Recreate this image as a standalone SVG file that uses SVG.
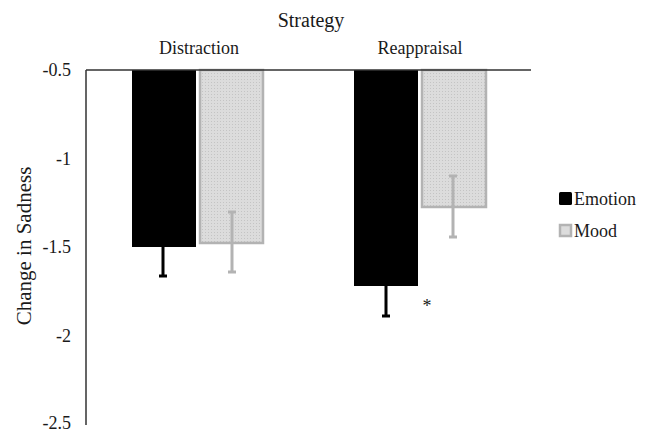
<svg xmlns="http://www.w3.org/2000/svg" width="646" height="434" viewBox="0 0 646 434">
<style>
text{font-family:"Liberation Serif","Times New Roman",serif;fill:#1a1a1a}
.tick{font-size:18px;text-anchor:end}
.cat{font-size:18px;text-anchor:middle}
.emo{fill:#000}
.mood{fill:url(#dots);stroke:#b3b3b3;stroke-width:2.5}
.eb-k{stroke:#000;stroke-width:3;fill:none}
.eb-g{stroke:#b3b3b3;stroke-width:3;fill:none}
.axis{stroke:#333;stroke-width:1.5;fill:none}
</style>
<defs>
<pattern id="dots" width="3" height="3" patternUnits="userSpaceOnUse">
<rect width="3" height="3" fill="#dcdcdc"/>
<rect x="1" y="1" width="1" height="1" fill="#c4c4c4"/>
</pattern>
</defs>
<rect width="646" height="434" fill="#fff"/>
<g id="titles" font-family="Liberation Serif, Times New Roman, serif">
<text x="311" y="27" font-size="20" text-anchor="middle">Strategy</text>
<text class="cat" x="199" y="54">Distraction</text>
<text class="cat" x="420" y="54">Reappraisal</text>
<text transform="translate(31,246) rotate(-90)" font-size="21" text-anchor="middle">Change in Sadness</text>
</g>
<g id="ticks">
<text class="tick" x="71" y="76">-0.5</text>
<text class="tick" x="71" y="165">-1</text>
<text class="tick" x="71" y="253">-1.5</text>
<text class="tick" x="71" y="342">-2</text>
<text class="tick" x="71" y="429">-2.5</text>
</g>
<g id="bar-distraction-emotion">
<rect class="emo" x="132" y="70" width="64" height="177"/>
<path class="eb-k" d="M163 247V276M159 276H167"/>
</g>
<g id="bar-distraction-mood">
<rect class="mood" x="200" y="70" width="63" height="173"/>
<path class="eb-g" d="M232 212V272M228 212H236M228 272H236"/>
</g>
<g id="bar-reappraisal-emotion">
<rect class="emo" x="354" y="70" width="64" height="216"/>
<path class="eb-k" d="M386 286V316M382 316H390"/>
</g>
<g id="bar-reappraisal-mood">
<rect class="mood" x="422" y="70" width="64" height="137"/>
<path class="eb-g" d="M453 176V237M449 176H457M449 237H457"/>
</g>
<g id="axes">
<path class="axis" d="M86 70H531M86 70V425"/>
</g>
<text x="427" y="312" font-size="18" text-anchor="middle">*</text>
<g id="legend">
<rect x="559" y="192" width="13" height="13" rx="1.5" fill="#000"/>
<text x="574" y="205" font-size="18">Emotion</text>
<rect x="560" y="225" width="11" height="11" fill="#dcdcdc" stroke="#b3b3b3" stroke-width="2.5"/>
<text x="574" y="237" font-size="18">Mood</text>
</g>
</svg>
